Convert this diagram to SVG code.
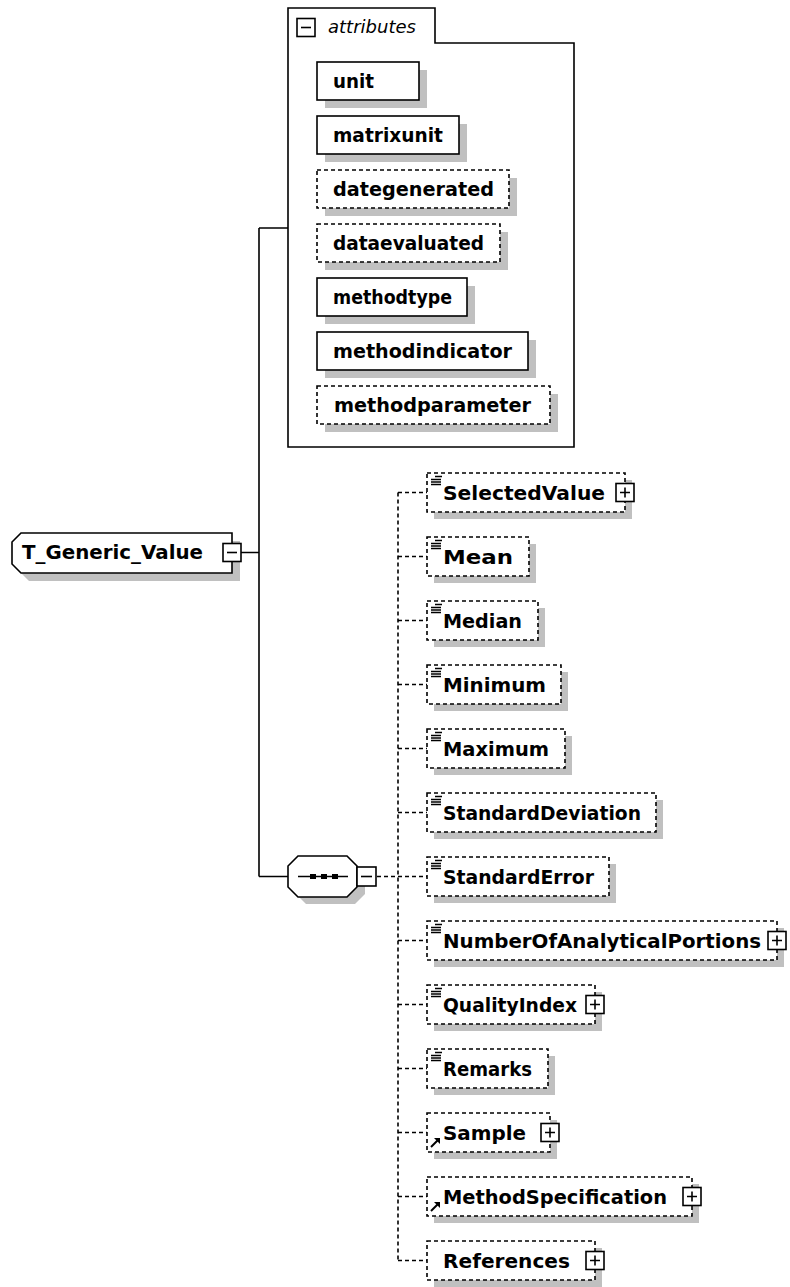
<svg xmlns="http://www.w3.org/2000/svg" width="790" height="1287" viewBox="0 0 790 1287">
<style>
.bx{fill:#fff;stroke:#000;stroke-width:1.6}
.op{fill:#fff;stroke:#000;stroke-width:1.6;stroke-dasharray:4 3}
.sh{fill:#c0c0c0}
.t{font-family:"DejaVu Sans",sans-serif;font-weight:bold;font-size:20px;fill:#000}
.it{font-family:"DejaVu Sans",sans-serif;font-style:italic;font-size:18px;fill:#000}
.ln{stroke:#000;stroke-width:1.6;fill:none}
.dl{stroke:#000;stroke-width:1.6;stroke-dasharray:4 3;fill:none}
.ic{stroke:#000;stroke-width:1.5;fill:none}
</style>
<defs>
<g id="plus"><rect x="0" y="0" width="18" height="18" class="bx"/><path d="M4,9H14M9,4V14" class="ln"/></g>
<g id="minus"><rect x="0" y="0" width="18" height="18" class="bx"/><path d="M4,9H14" class="ln"/></g>
<g id="sc"><path d="M8,3.5H15M4,6.5H14M4,9H14M4,11.5H14" class="ic"/></g>
<g id="ref"><path d="M4,34L11,27" stroke="#000" stroke-width="2"/><path d="M7,25L13,25L13,31Z" fill="#000"/></g>
</defs>

<g id="connectors">
<path d="M241,552.5H259M259,228V876.5M259,228H288M259,876.5H288" class="ln"/>
<path d="M377,876.5H398M398,492.5V1260.5" class="dl"/>
<path d="M398,492.5H427M398,556.5H427M398,620.5H427M398,684.5H427M398,748.5H427M398,812.5H427M398,876.5H427M398,940.5H427M398,1004.5H427M398,1068.5H427M398,1132.5H427M398,1196.5H427M398,1260.5H427" class="dl"/>
</g>

<g id="T_Generic_Value">
<path d="M29,541H240V581H29L20,572V550Z" class="sh"/>
<path d="M21,533H232V573H21L12,564V542Z" class="bx"/>
<text x="22" y="559" class="t" textLength="181" lengthAdjust="spacingAndGlyphs">T_Generic_Value</text>
<use href="#minus" x="223" y="543.5"/>
</g>

<g id="attributes">
<path d="M288,8H435V43H574V447H288Z" class="bx"/>
<use href="#minus" x="297" y="18.5"/>
<text x="328" y="33" class="it">attributes</text>
<g id="attr-unit"><rect x="325" y="70" width="102" height="38" class="sh"/><rect x="317" y="62" width="102" height="38" class="bx"/><text x="333" y="88" class="t" textLength="41" lengthAdjust="spacingAndGlyphs">unit</text></g>
<g id="attr-matrixunit"><rect x="325" y="124" width="142" height="38" class="sh"/><rect x="317" y="116" width="142" height="38" class="bx"/><text x="333" y="142" class="t" textLength="110" lengthAdjust="spacingAndGlyphs">matrixunit</text></g>
<g id="attr-dategenerated"><rect x="325" y="178" width="192" height="38" class="sh"/><rect x="317" y="170" width="192" height="38" class="op"/><text x="333" y="196" class="t" textLength="161" lengthAdjust="spacingAndGlyphs">dategenerated</text></g>
<g id="attr-dataevaluated"><rect x="325" y="232" width="183" height="38" class="sh"/><rect x="317" y="224" width="183" height="38" class="op"/><text x="333" y="250" class="t" textLength="151" lengthAdjust="spacingAndGlyphs">dataevaluated</text></g>
<g id="attr-methodtype"><rect x="325" y="286" width="150" height="38" class="sh"/><rect x="317" y="278" width="150" height="38" class="bx"/><text x="333" y="304" class="t" textLength="119" lengthAdjust="spacingAndGlyphs">methodtype</text></g>
<g id="attr-methodindicator"><rect x="325" y="340" width="211" height="38" class="sh"/><rect x="317" y="332" width="211" height="38" class="bx"/><text x="333" y="358" class="t" textLength="179" lengthAdjust="spacingAndGlyphs">methodindicator</text></g>
<g id="attr-methodparameter"><rect x="325" y="394" width="233" height="38" class="sh"/><rect x="317" y="386" width="233" height="38" class="op"/><text x="334" y="412" class="t" textLength="197" lengthAdjust="spacingAndGlyphs">methodparameter</text></g>
</g>

<g id="sequence">
<path d="M306,863H355L365,873V894L355,904H306L296,894V873Z" class="sh"/>
<path d="M298,856H347L357,866V887L347,897H298L288,887V866Z" class="bx"/>
<path d="M298,876.5H348" class="ln"/>
<rect x="310" y="874" width="6" height="5" fill="#000"/>
<rect x="321" y="874" width="6" height="5" fill="#000"/>
<rect x="332" y="874" width="6" height="5" fill="#000"/>
<rect x="357" y="867" width="19" height="19" class="bx"/><path d="M361,876.5H372" class="ln"/>
</g>

<g id="SelectedValue" transform="translate(427,473)"><rect x="7" y="7" width="198" height="39" class="sh"/><rect width="198" height="39" class="op"/><use href="#sc"/><text x="16" y="27" class="t" textLength="162" lengthAdjust="spacingAndGlyphs">SelectedValue</text><use href="#plus" x="189" y="10.5"/></g>
<g id="Mean" transform="translate(427,537)"><rect x="7" y="7" width="102" height="39" class="sh"/><rect width="102" height="39" class="op"/><use href="#sc"/><text x="16" y="27" class="t" textLength="70" lengthAdjust="spacingAndGlyphs">Mean</text></g>
<g id="Median" transform="translate(427,601)"><rect x="7" y="7" width="111" height="39" class="sh"/><rect width="111" height="39" class="op"/><use href="#sc"/><text x="16" y="27" class="t" textLength="79" lengthAdjust="spacingAndGlyphs">Median</text></g>
<g id="Minimum" transform="translate(427,665)"><rect x="7" y="7" width="134" height="39" class="sh"/><rect width="134" height="39" class="op"/><use href="#sc"/><text x="16" y="27" class="t" textLength="103" lengthAdjust="spacingAndGlyphs">Minimum</text></g>
<g id="Maximum" transform="translate(427,729)"><rect x="7" y="7" width="138" height="39" class="sh"/><rect width="138" height="39" class="op"/><use href="#sc"/><text x="16" y="27" class="t" textLength="106" lengthAdjust="spacingAndGlyphs">Maximum</text></g>
<g id="StandardDeviation" transform="translate(427,793)"><rect x="7" y="7" width="229" height="39" class="sh"/><rect width="229" height="39" class="op"/><use href="#sc"/><text x="16" y="27" class="t" textLength="198" lengthAdjust="spacingAndGlyphs">StandardDeviation</text></g>
<g id="StandardError" transform="translate(427,857)"><rect x="7" y="7" width="182" height="39" class="sh"/><rect width="182" height="39" class="op"/><use href="#sc"/><text x="16" y="27" class="t" textLength="151" lengthAdjust="spacingAndGlyphs">StandardError</text></g>
<g id="NumberOfAnalyticalPortions" transform="translate(427,921)"><rect x="7" y="7" width="350" height="39" class="sh"/><rect width="350" height="39" class="op"/><use href="#sc"/><text x="16" y="27" class="t" textLength="318" lengthAdjust="spacingAndGlyphs">NumberOfAnalyticalPortions</text><use href="#plus" x="341" y="10.5"/></g>
<g id="QualityIndex" transform="translate(427,985)"><rect x="7" y="7" width="168" height="39" class="sh"/><rect width="168" height="39" class="op"/><use href="#sc"/><text x="16" y="27" class="t" textLength="134" lengthAdjust="spacingAndGlyphs">QualityIndex</text><use href="#plus" x="159" y="10.5"/></g>
<g id="Remarks" transform="translate(427,1049)"><rect x="7" y="7" width="121" height="39" class="sh"/><rect width="121" height="39" class="op"/><use href="#sc"/><text x="16" y="27" class="t" textLength="89" lengthAdjust="spacingAndGlyphs">Remarks</text></g>
<g id="Sample" transform="translate(427,1113)"><rect x="7" y="7" width="123" height="39" class="sh"/><rect width="123" height="39" class="op"/><use href="#ref"/><text x="16" y="27" class="t" textLength="83" lengthAdjust="spacingAndGlyphs">Sample</text><use href="#plus" x="114" y="10.5"/></g>
<g id="MethodSpecification" transform="translate(427,1177)"><rect x="7" y="7" width="265" height="39" class="sh"/><rect width="265" height="39" class="op"/><use href="#ref"/><text x="16" y="27" class="t" textLength="224" lengthAdjust="spacingAndGlyphs">MethodSpecification</text><use href="#plus" x="256" y="10.5"/></g>
<g id="References" transform="translate(427,1241)"><rect x="7" y="7" width="168" height="39" class="sh"/><rect width="168" height="39" class="op"/><text x="16" y="27" class="t" textLength="127" lengthAdjust="spacingAndGlyphs">References</text><use href="#plus" x="159" y="10.5"/></g>
</svg>
